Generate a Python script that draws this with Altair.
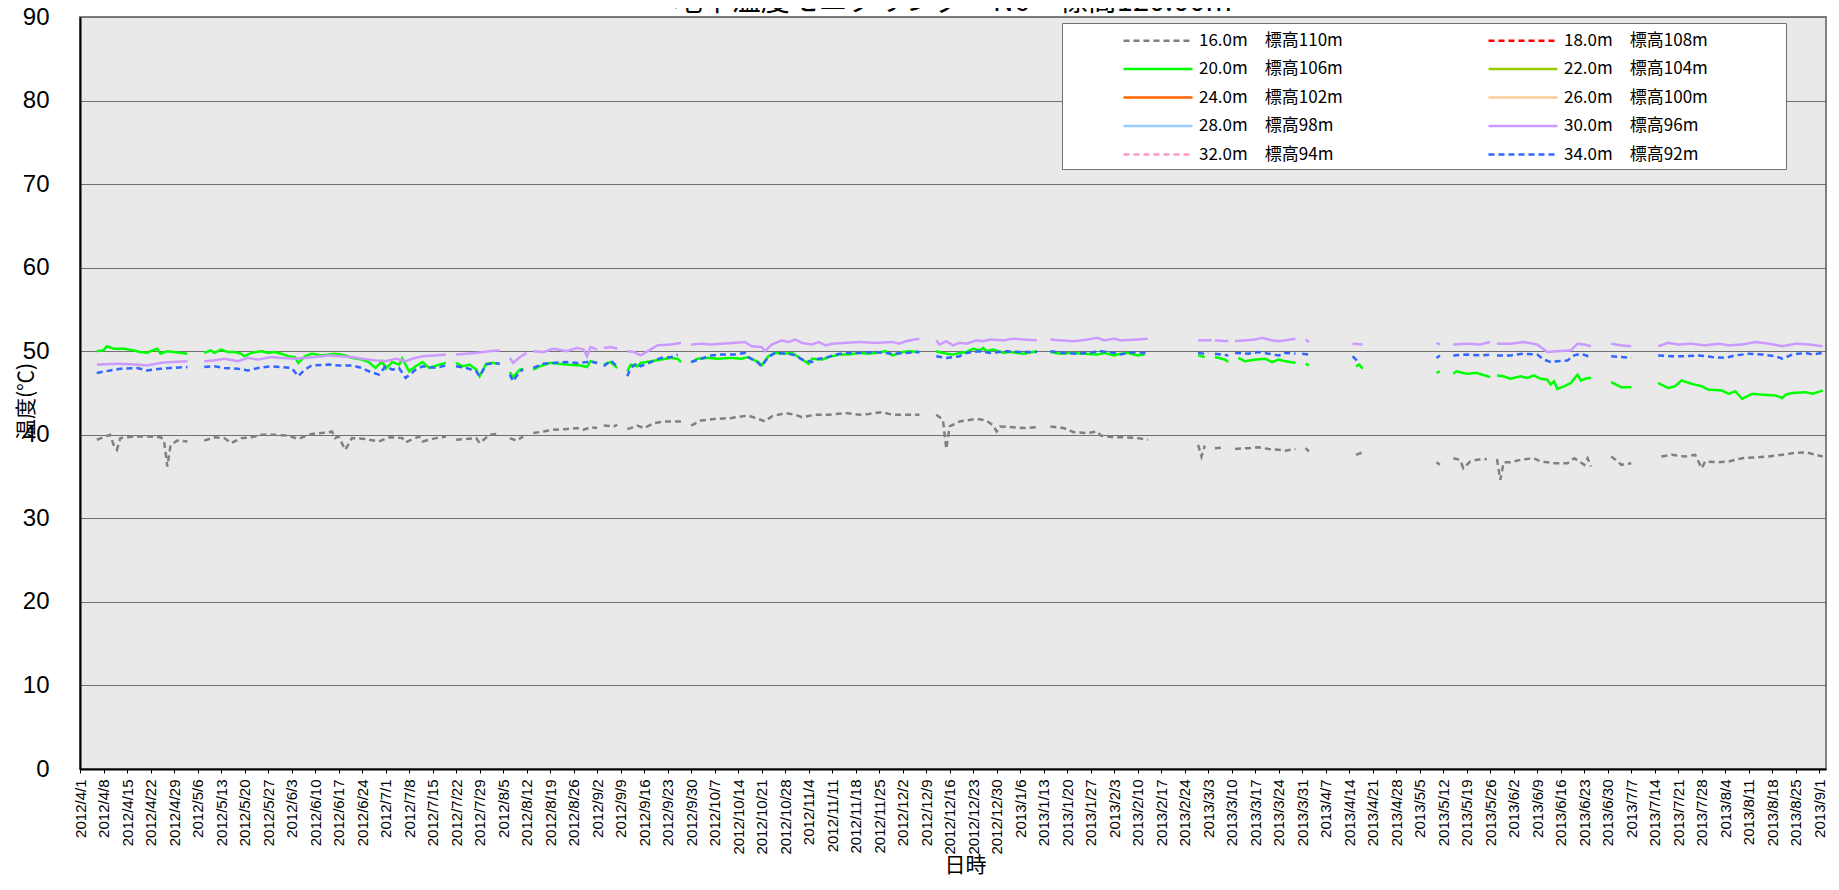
import altair as alt
import pandas as pd

START = pd.Timestamp("2012-04-01")

TITLE = "地中温度モニタリング　N6　標高120.00m"
SERIES = ["16.0m　標高110m", "18.0m　標高108m", "20.0m　標高106m", "22.0m　標高104m",
          "24.0m　標高102m", "26.0m　標高100m", "28.0m　標高98m", "30.0m　標高96m",
          "32.0m　標高94m", "34.0m　標高92m"]
COLORS = ["#808080", "#ff0000", "#00ff00", "#99cc00", "#ff6600",
          "#ffcc99", "#99ccff", "#cc99ff", "#ff99cc", "#3366ff"]
DASHES = [[6, 4], [6, 4], [1, 0], [1, 0], [1, 0], [1, 0], [1, 0], [1, 0], [6, 4], [6, 4]]

# days after 2012/4/1, one sub-list per unbroken run of readings
DAYS_16 = [[5, 9, 10, 11, 12, 16, 20, 24, 25, 26, 27, 29, 32],
           [37, 40, 43, 45, 48, 51, 54, 58, 62, 65, 67, 69, 74, 75, 76, 77, 78, 79, 81, 85, 89, 92, 96, 97, 101, 102, 106, 109],
           [112, 115, 118, 119, 122, 124, 125], [128, 130, 132],
           [135, 138, 141, 145, 148, 150, 152, 154], [156, 159, 160],
           [163, 164, 166, 168, 171, 174, 179],
           [182, 185, 189, 194, 197, 199, 202, 204, 206, 210, 213, 215, 219, 223, 228, 232, 235, 239, 242, 246, 250],
           [255, 257, 258, 259, 262, 267, 270, 272, 273, 274, 278, 281, 285],
           [289, 293, 296, 300, 303, 304, 308, 311, 315, 318],
           [333, 334, 335], [338, 341], [344, 348, 351, 354, 357, 359, 362], [365, 366],
           [380, 382], [404, 405], [409, 411, 412, 414, 416, 419],
           [422, 423, 424, 426, 429, 433, 435, 439, 443, 445, 448, 449, 450],
           [456, 458, 459, 462],
           [471, 474, 478, 481, 483, 484, 488, 491, 495, 499, 503, 507, 510, 514, 516, 519]]
TEMP_16 = [[39.4, 40.0, 38.8, 38.2, 39.6, 39.8, 39.8, 39.7, 39.4, 36.2, 38.8, 39.3, 39.2],
           [39.3, 39.7, 39.6, 39.0, 39.6, 39.7, 40.0, 40.0, 39.9, 39.5, 39.8, 40.1, 40.3, 40.4, 39.6, 39.8, 39.0, 38.2, 39.6, 39.5, 39.2, 39.7, 39.6, 39.1, 39.8, 39.2, 39.6, 39.8],
           [39.4, 39.5, 39.6, 39.0, 40.0, 40.1, 40.0], [39.6, 39.3, 39.8],
           [40.2, 40.4, 40.6, 40.7, 40.8, 40.6, 40.9, 40.8], [41.1, 41.0, 41.2],
           [40.7, 40.8, 41.1, 40.8, 41.4, 41.6, 41.6],
           [41.1, 41.7, 41.9, 42.0, 42.2, 42.3, 41.9, 41.6, 42.2, 42.6, 42.4, 42.1, 42.4, 42.4, 42.6, 42.4, 42.5, 42.7, 42.4, 42.4, 42.4],
           [42.4, 41.8, 38.3, 41.0, 41.6, 41.9, 41.7, 41.1, 40.4, 41.0, 40.9, 40.8, 40.9],
           [41.0, 40.8, 40.3, 40.2, 40.4, 39.9, 39.7, 39.7, 39.6, 39.4],
           [38.8, 37.4, 38.7], [38.4, 38.5], [38.3, 38.4, 38.5, 38.3, 38.2, 38.1, 38.3], [38.4, 38.0],
           [37.6, 37.9], [36.7, 36.4], [37.2, 37.0, 36.0, 36.8, 37.0, 37.1],
           [37.1, 34.6, 36.7, 36.7, 37.0, 37.2, 36.8, 36.6, 36.6, 37.2, 36.4, 37.2, 36.2],
           [37.4, 36.8, 36.4, 36.6],
           [37.4, 37.6, 37.4, 37.6, 36.0, 36.8, 36.7, 36.8, 37.2, 37.3, 37.4, 37.6, 37.8, 37.9, 37.7, 37.4]]

DAYS_20 = [[5, 7, 8, 10, 13, 16, 18, 20, 21, 23, 24, 26, 28, 32],
           [37, 39, 40, 42, 44, 46, 48, 49, 51, 54, 56, 58, 60, 62, 64, 65, 67, 69, 72, 74, 76, 79, 81, 84, 86, 88, 90, 91, 93, 95, 96, 98, 100, 102, 104, 107, 109],
           [112, 114, 116, 118, 119, 121, 123, 125], [128, 129, 131, 132],
           [135, 137, 140, 145, 149, 151, 152, 154], [156, 158, 160],
           [163, 164, 166, 167, 170, 173, 176, 178, 179],
           [182, 184, 187, 190, 194, 197, 199, 202, 203, 205, 207, 210, 212, 214, 217, 218, 221, 223, 226, 229, 232, 235, 237, 240, 242, 245, 247, 250],
           [255, 258, 260, 262, 264, 266, 268, 269, 270, 272, 275, 277, 279, 281, 285],
           [289, 292, 295, 299, 303, 305, 308, 310, 312, 315, 317],
           [333, 335], [338, 341, 342], [345, 347, 350, 353, 355, 357, 359, 362], [365, 366],
           [380, 381, 382], [404, 405], [409, 410, 413, 416, 420],
           [422, 424, 426, 429, 431, 433, 435, 437, 438, 439, 440, 442, 444, 446, 447, 449, 450],
           [456, 459, 462],
           [470, 473, 475, 477, 480, 483, 485, 489, 491, 493, 495, 498, 501, 505, 507, 508, 510, 514, 516, 519]]
TEMP_20 = [[50.0, 50.1, 50.6, 50.3, 50.3, 50.1, 49.9, 49.8, 50.0, 50.3, 49.7, 50.0, 49.9, 49.7],
           [49.8, 50.1, 49.8, 50.2, 49.9, 49.9, 49.7, 49.4, 49.8, 50.0, 49.8, 49.9, 49.7, 49.4, 49.3, 48.6, 49.4, 49.7, 49.5, 49.6, 49.7, 49.5, 49.2, 49.0, 48.7, 48.0, 48.8, 47.9, 48.7, 48.4, 49.1, 47.6, 48.2, 48.7, 48.0, 48.4, 48.6],
           [48.6, 48.2, 48.4, 47.8, 47.0, 48.5, 48.6, 48.5], [47.5, 46.9, 47.8, 47.9],
           [47.8, 48.2, 48.6, 48.4, 48.3, 48.1, 48.8, 48.6], [48.4, 48.7, 48.0],
           [47.6, 48.4, 48.2, 48.6, 48.8, 49.0, 49.2, 49.1, 48.7],
           [48.7, 49.1, 49.2, 49.1, 49.2, 49.1, 49.3, 48.7, 48.3, 49.4, 49.8, 49.7, 49.8, 49.3, 48.5, 49.1, 49.0, 49.3, 49.6, 49.6, 49.8, 49.7, 49.8, 50.0, 49.5, 49.9, 50.0, 49.9],
           [50.0, 49.7, 49.6, 49.8, 49.9, 50.3, 50.1, 50.4, 50.0, 50.2, 49.8, 49.9, 49.8, 49.7, 50.0],
           [49.9, 49.7, 49.8, 49.7, 49.6, 49.8, 49.5, 49.7, 49.8, 49.5, 49.6],
           [49.5, 49.3], [49.3, 49.0, 48.7], [49.2, 48.8, 49.0, 49.1, 48.7, 49.0, 48.8, 48.6], [48.5, 48.3],
           [48.2, 48.4, 47.9], [47.4, 47.6], [47.3, 47.6, 47.3, 47.4, 46.9],
           [47.1, 47.0, 46.7, 47.0, 46.8, 47.1, 46.7, 46.6, 46.0, 46.4, 45.5, 45.8, 46.2, 47.2, 46.5, 46.8, 46.8],
           [46.3, 45.7, 45.7],
           [46.2, 45.6, 45.8, 46.5, 46.1, 45.8, 45.4, 45.3, 44.9, 45.2, 44.3, 44.9, 44.8, 44.7, 44.4, 44.8, 45.0, 45.1, 44.9, 45.3]]

DAYS_30 = [[5, 11, 17, 20, 24, 27, 32],
           [37, 40, 43, 47, 50, 53, 57, 60, 64, 67, 70, 74, 77, 81, 84, 88, 91, 94, 97, 99, 102, 106, 109],
           [112, 115, 118, 122, 125], [128, 129, 131, 133],
           [135, 138, 141, 145, 148, 150, 151, 152, 154], [156, 158, 160],
           [163, 165, 167, 169, 172, 176, 179],
           [182, 185, 188, 191, 195, 198, 200, 203, 204, 206, 209, 211, 213, 215, 218, 220, 222, 224, 228, 232, 237, 242, 244, 246, 250],
           [255, 256, 258, 260, 262, 264, 267, 269, 271, 275, 278, 281, 285],
           [289, 292, 296, 300, 303, 305, 308, 310, 315, 318],
           [333, 337], [338, 342], [344, 347, 350, 352, 355, 357, 359, 362], [365, 366],
           [379, 382], [404, 405], [409, 413, 417, 420],
           [422, 426, 430, 434, 436, 437, 440, 444, 446, 448, 450],
           [456, 459, 462],
           [470, 473, 476, 480, 484, 488, 491, 495, 499, 503, 507, 511, 515, 519]]
TEMP_30 = [[48.4, 48.5, 48.4, 48.3, 48.6, 48.7, 48.8],
           [48.8, 48.9, 49.1, 48.8, 49.2, 49.0, 49.3, 49.2, 49.1, 49.2, 49.3, 49.5, 49.4, 49.3, 49.1, 48.9, 48.8, 49.1, 48.8, 49.1, 49.4, 49.5, 49.6],
           [49.6, 49.7, 49.8, 50.0, 50.1], [49.2, 48.6, 49.3, 49.8],
           [50.0, 49.9, 50.3, 50.0, 50.4, 50.2, 49.4, 50.5, 50.2], [50.4, 50.5, 50.3],
           [50.0, 49.9, 49.5, 50.0, 50.7, 50.8, 51.0],
           [50.8, 50.9, 50.8, 50.9, 51.0, 51.1, 50.6, 50.5, 50.0, 50.8, 51.3, 51.1, 51.4, 51.0, 50.8, 51.1, 50.7, 50.9, 51.0, 51.1, 51.0, 51.1, 50.9, 51.2, 51.5],
           [51.3, 50.8, 51.2, 50.7, 51.0, 50.9, 51.3, 51.2, 51.4, 51.3, 51.5, 51.4, 51.3],
           [51.4, 51.3, 51.2, 51.4, 51.6, 51.3, 51.5, 51.3, 51.4, 51.5],
           [51.3, 51.3], [51.3, 51.2], [51.2, 51.3, 51.4, 51.6, 51.3, 51.2, 51.3, 51.5], [51.4, 51.1],
           [50.9, 50.8], [51.0, 50.8], [50.8, 50.9, 50.8, 51.1],
           [50.9, 50.9, 51.1, 50.8, 50.2, 49.9, 50.0, 50.1, 50.9, 50.8, 50.6],
           [50.9, 50.7, 50.6],
           [50.6, 51.0, 50.8, 50.9, 50.7, 50.9, 50.7, 50.8, 51.1, 50.9, 50.6, 50.9, 50.8, 50.6]]

DAYS_34 = [[5, 9, 12, 17, 20, 24, 27, 32],
           [37, 40, 43, 47, 50, 53, 57, 60, 63, 65, 67, 69, 74, 77, 81, 84, 86, 89, 91, 93, 95, 97, 100, 102, 106, 109],
           [112, 115, 118, 119, 121, 123, 125], [128, 129, 131, 132],
           [135, 138, 141, 145, 148, 151, 152, 154], [156, 158, 160],
           [163, 164, 166, 167, 170, 173, 176, 178],
           [182, 185, 188, 191, 195, 198, 199, 202, 203, 205, 207, 211, 213, 215, 218, 220, 222, 225, 228, 232, 237, 242, 246, 250],
           [255, 258, 260, 262, 264, 268, 271, 276, 280, 285],
           [289, 293, 297, 302, 304, 308, 310, 312, 315, 318],
           [333, 335, 336], [338, 342], [344, 348, 351, 354, 357, 359, 362], [364, 366],
           [379, 380, 381], [404, 405], [409, 413, 417, 420],
           [422, 426, 430, 434, 436, 438, 440, 443, 445, 447, 450],
           [456, 459, 462],
           [470, 474, 478, 482, 486, 490, 493, 497, 501, 505, 507, 510, 514, 516, 519]]
TEMP_34 = [[47.4, 47.7, 47.9, 48.0, 47.7, 47.9, 48.0, 48.1],
           [48.1, 48.2, 48.0, 47.9, 47.7, 48.0, 48.2, 48.1, 48.0, 47.0, 47.8, 48.3, 48.4, 48.3, 48.3, 48.0, 47.6, 47.2, 48.2, 47.8, 48.0, 46.8, 47.8, 48.2, 48.0, 48.3],
           [48.2, 48.0, 47.6, 47.0, 48.4, 48.6, 48.5], [47.2, 46.4, 47.6, 47.8],
           [48.0, 48.5, 48.6, 48.7, 48.6, 48.7, 48.8, 48.6], [48.2, 48.9, 48.2],
           [47.0, 48.0, 48.6, 48.2, 48.7, 49.2, 49.3, 49.6],
           [48.7, 49.1, 49.5, 49.6, 49.6, 49.8, 49.3, 48.6, 48.2, 49.3, 49.8, 49.7, 49.5, 49.0, 48.7, 49.1, 49.2, 49.6, 49.8, 49.8, 49.9, 49.7, 49.8, 49.9],
           [49.4, 49.2, 49.3, 49.4, 49.8, 50.0, 49.8, 50.0, 49.9, 49.9],
           [50.0, 49.8, 49.7, 49.9, 50.0, 49.8, 49.6, 49.8, 49.9, 49.7],
           [49.8, 49.7, 49.8], [49.7, 49.5], [49.8, 49.7, 49.9, 49.7, 49.5, 49.8, 49.7], [49.7, 49.6],
           [49.4, 49.0, 49.3], [49.2, 49.5], [49.5, 49.6, 49.5, 49.6],
           [49.5, 49.5, 49.7, 49.6, 49.0, 48.7, 48.8, 48.9, 49.5, 49.7, 49.3],
           [49.4, 49.3, 49.2],
           [49.5, 49.4, 49.4, 49.5, 49.3, 49.2, 49.5, 49.7, 49.6, 49.4, 49.1, 49.6, 49.8, 49.6, 49.8]]

# weekly category labels 2012/4/1 ... 2013/9/1
TICK_DATES = [START + pd.Timedelta(days=7 * k) for k in range(75)]
X_END = pd.Timestamp("2013-09-03")

rows = []
for name, days, temps in [(SERIES[0], DAYS_16, TEMP_16), (SERIES[2], DAYS_20, TEMP_20),
                          (SERIES[7], DAYS_30, TEMP_30), (SERIES[9], DAYS_34, TEMP_34)]:
    for s, (dseg, tseg) in enumerate(zip(days, temps)):
        assert len(dseg) == len(tseg), (name, s)
        for d, t in zip(dseg, tseg):
            rows.append({"series": name, "seg": f"{name}-{s}",
                         "date": (START + pd.Timedelta(days=d)).strftime("%Y-%m-%d"),
                         "temp": t})
df = pd.DataFrame(rows)


def dt(ts):
    return alt.DateTime(year=ts.year, month=ts.month, date=ts.day, utc=True)


# right-hand legend column gets blank (braille) padding so the frame reaches the reference width
right_col = "[" + ",".join("'" + s + "'" for s in SERIES[1::2]) + "]"
legend = alt.Legend(
    title=None, orient="none", legendX=982, legendY=6, columns=2, direction="horizontal",
    symbolType="M-1,0L5.9,0", symbolSize=400, symbolStrokeWidth=2.5,
    symbolOffset=54, labelOffset=54, labelLimit=600,
    labelFont="Noto Sans CJK JP", labelFontSize=17, labelColor="black",
    columnPadding=90, rowPadding=8.5, padding=6,
    fillColor="white", strokeColor="#707070",
    labelExpr="indexof(" + right_col + ", datum.label) >= 0 ? datum.label + '\u2800\u2800\u2800\u2800\u2800\u2800' : datum.label",
)

chart = alt.Chart(df).mark_line(strokeWidth=2.5).encode(
    x=alt.X("date:T",
            scale=alt.Scale(type="utc", domain=[dt(START), dt(X_END)]),
            axis=alt.Axis(values=[dt(t) for t in TICK_DATES],
                          labelExpr="utcFormat(datum.value, '%Y/%-m/%-d')",
                          labelAngle=270, labelFont="Liberation Sans", labelFontSize=15,
                          labelColor="black", labelOverlap=False, labelFlush=False,
                          labelBound=False, labelPadding=6,
                          ticks=True, tickSize=4, tickColor="black", tickWidth=1,
                          domainColor="black", domainWidth=2, grid=False,
                          title="日時", titleFont="Noto Sans CJK JP", titleFontSize=21,
                          titleFontWeight="normal", titleColor="black",
                          titleX=885, titleY=96, titleAlign="center", titleBaseline="middle")),
    y=alt.Y("temp:Q",
            scale=alt.Scale(domain=[0, 90], nice=False, zero=True),
            axis=alt.Axis(values=list(range(0, 91, 10)), format="d",
                          labelFont="Liberation Sans Narrow, Liberation Sans", labelFontSize=24,
                          labelColor="black", labelPadding=31, ticks=False,
                          domainColor="black", domainWidth=2,
                          grid=True, gridColor="#707070", gridWidth=1,
                          title="温度(℃)", titleFont="Noto Sans CJK JP", titleFontSize=21,
                          titleFontWeight="normal", titleColor="black", titleAngle=270,
                          titleX=-54, titleY=384, titleAlign="center", titleBaseline="middle")),
    color=alt.Color("series:N", scale=alt.Scale(domain=SERIES, range=COLORS), legend=legend),
    strokeDash=alt.StrokeDash("series:N", scale=alt.Scale(domain=SERIES, range=DASHES), legend=legend),
    detail="seg:N",
).properties(
    width=1746, height=752,
    autosize=alt.AutoSizeParams(type="none"),
    padding={"left": 72, "top": 9, "right": 4, "bottom": 107},
    title=alt.TitleParams(text=TITLE, font="Noto Sans CJK JP", fontSize=29, fontWeight="normal",
                          color="black", anchor="middle", frame="group",
                          baseline="alphabetic", offset=-35),
).configure_view(
    fill="#e9e9e9", stroke="#808080", strokeWidth=2
)

chart.save("out.html", embed_options={"renderer": "svg", "actions": False})
